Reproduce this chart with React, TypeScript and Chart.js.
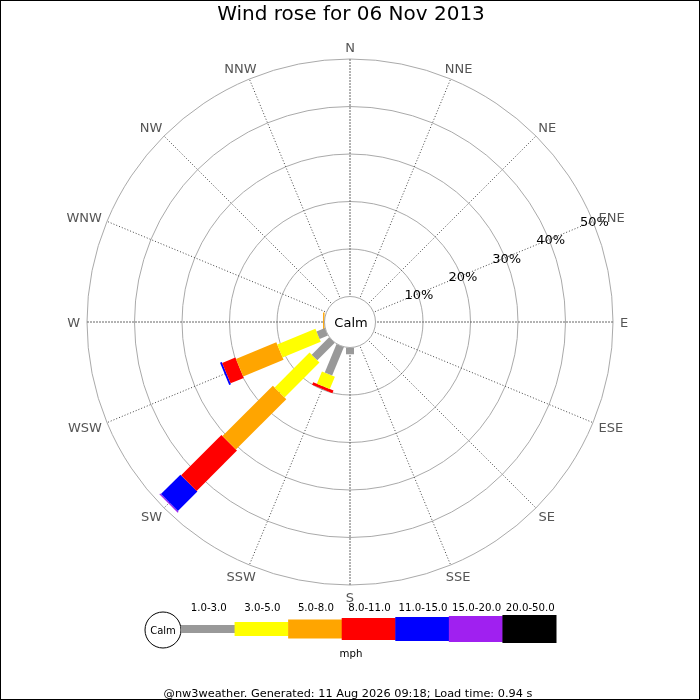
import React, { useEffect, useRef } from "react";
import { Chart, registerables } from "chart.js";

Chart.register(...registerables);

// ---- data ----
const titleText = "Wind rose for 06 Nov 2013";
const footerText = "@nw3weather. Generated: 11 Aug 2026 09:18; Load time: 0.94 s";
const directions = ["N", "NNE", "NE", "ENE", "E", "ESE", "SE", "SSE", "S", "SSW", "SW", "WSW", "W", "WNW", "NW", "NNW"];
const speedBins = ["1.0-3.0", "3.0-5.0", "5.0-8.0", "8.0-11.0", "11.0-15.0", "15.0-20.0", "20.0-50.0"];
const speedUnit = "mph";
const ringTicks = [10, 20, 30, 40, 50];
const ringLabels = ["10%", "20%", "30%", "40%", "50%"];
// percentage of time per direction (N..NNW) for each speed bin
const freq1to3 = [0, 0, 0, 0, 0, 0, 0, 0, 1.4, 6.5, 5.2, 1.9, 0, 0, 0, 0];
const freq3to5 = [0, 0, 0, 0, 0, 0, 0, 0, 0, 2.8, 10.4, 8.7, 0, 0, 0, 0];
const freq5to8 = [0, 0, 0, 0, 0, 0, 0, 0, 0, 0, 15.0, 9.2, 0.3, 0, 0, 0];
const freq8to11 = [0, 0, 0, 0, 0, 0, 0, 0, 0, 0.6, 12.0, 3.0, 0, 0, 0, 0];
const freq11to15 = [0, 0, 0, 0, 0, 0, 0, 0, 0, 0, 5.8, 0.4, 0, 0, 0, 0];
const freq15to20 = [0, 0, 0, 0, 0, 0, 0, 0, 0, 0, 0.25, 0, 0, 0, 0, 0];
const freq20to50 = [0, 0, 0, 0, 0, 0, 0, 0, 0, 0, 0, 0, 0, 0, 0, 0];
const seriesByBin = [freq1to3, freq3to5, freq5to8, freq8to11, freq11to15, freq15to20, freq20to50];

// ---- styles ----
const binColors = ["#999999", "#ffff00", "#ffa500", "#ff0000", "#0000ff", "#a020f0", "#000000"];
const binWidths = [8, 14, 19, 22, 24, 26, 28];
const FONT = "'DejaVu Sans', sans-serif";
const PX_PER_PCT = 4.75;
const CALM_PX = 25.5;
const HALF = 300; // chart area half-size in px
const U0 = CALM_PX / PX_PER_PCT;
const UR = HALF / PX_PER_PCT;

function angleOf(i: number) {
  return (i * 22.5 * Math.PI) / 180;
}

function buildDatasets() {
  const ds: any[] = [];
  directions.forEach((_, d) => {
    let cum = 0;
    const th = angleOf(d);
    seriesByBin.forEach((series, b) => {
      const v = series[d];
      if (v > 0) {
        const a = U0 + cum;
        const e = U0 + cum + v;
        ds.push({
          label: `${directions[d]} ${speedBins[b]}`,
          data: [
            { x: a * Math.sin(th), y: a * Math.cos(th) },
            { x: e * Math.sin(th), y: e * Math.cos(th) },
          ],
          showLine: true,
          borderColor: binColors[b],
          backgroundColor: binColors[b],
          borderWidth: binWidths[b],
          borderCapStyle: "butt",
          pointRadius: 0,
          pointHoverRadius: 0,
          fill: false,
        });
        cum += v;
      }
    });
  });
  return ds;
}

const rosePlugin = {
  id: "rose",
  beforeDraw(chart: any) {
    const ctx = chart.ctx;
    ctx.save();
    ctx.fillStyle = "#ffffff";
    ctx.fillRect(0, 0, chart.width, chart.height);
    ctx.restore();
  },
  beforeDatasetsDraw(chart: any) {
    const ctx = chart.ctx;
    const xs = chart.scales.x;
    const ys = chart.scales.y;
    const cx = xs.getPixelForValue(0);
    const cy = ys.getPixelForValue(0);
    const rpx = (u: number) => xs.getPixelForValue(u) - cx;
    ctx.save();
    ctx.strokeStyle = "#aaaaaa";
    ctx.lineWidth = 1;
    ringTicks.forEach((t) => {
      ctx.beginPath();
      ctx.arc(cx, cy, rpx(U0 + t), 0, Math.PI * 2);
      ctx.stroke();
    });
    const outer = U0 + ringTicks[ringTicks.length - 1];
    directions.forEach((_, i) => {
      const th = angleOf(i);
      ctx.beginPath();
      ctx.strokeStyle = i % 4 === 0 ? "#666666" : "#444444";
      ctx.setLineDash(i % 4 === 0 ? [2, 1] : [1, 2]);
      ctx.moveTo(cx, cy);
      ctx.lineTo(xs.getPixelForValue(outer * Math.sin(th)), ys.getPixelForValue(outer * Math.cos(th)));
      ctx.stroke();
    });
    ctx.setLineDash([]);
    ctx.restore();
  },
  afterDatasetsDraw(chart: any) {
    const ctx = chart.ctx;
    const xs = chart.scales.x;
    const ys = chart.scales.y;
    const cx = xs.getPixelForValue(0);
    const cy = ys.getPixelForValue(0);
    ctx.save();
    ctx.textAlign = "center";
    ctx.textBaseline = "alphabetic";
    // calm circle
    ctx.beginPath();
    ctx.arc(cx, cy, CALM_PX, 0, Math.PI * 2);
    ctx.fillStyle = "#ffffff";
    ctx.fill();
    ctx.strokeStyle = "#aaaaaa";
    ctx.lineWidth = 1;
    ctx.stroke();
    ctx.fillStyle = "#000000";
    ctx.font = `13px ${FONT}`;
    ctx.fillText("Calm", cx + 1, cy + 4.5);

    // ring labels along ENE
    const thL = angleOf(3);
    ringTicks.forEach((t, i) => {
      const u = U0 + t;
      ctx.fillText(ringLabels[i], xs.getPixelForValue(u * Math.sin(thL)) + 1.5, ys.getPixelForValue(u * Math.cos(thL)) + 4.8);
    });

    // direction labels placed just outside the outer ring
    const labU = 270 / PX_PER_PCT;
    ctx.fillStyle = "#555555";
    ctx.font = `13px ${FONT}`;
    const capH = 9.5;
    directions.forEach((d, i) => {
      const th = angleOf(i);
      const w = ctx.measureText(d).width;
      const px = xs.getPixelForValue(labU * Math.sin(th));
      const py = ys.getPixelForValue(labU * Math.cos(th));
      const mx = px + (Math.sin(th) * w) / 2;
      const my = py - (Math.cos(th) * capH) / 2;
      ctx.fillText(d, mx, my + capH / 2);
    });

    // title
    ctx.fillStyle = "#000000";
    ctx.font = `20px ${FONT}`;
    ctx.fillText(titleText, 351, 19.5);

    // legend
    const ly = 629;
    ctx.beginPath();
    ctx.arc(163, 630, 18, 0, Math.PI * 2);
    ctx.fillStyle = "#ffffff";
    ctx.fill();
    ctx.strokeStyle = "#000000";
    ctx.lineWidth = 1;
    ctx.stroke();
    ctx.fillStyle = "#000000";
    ctx.font = `10px ${FONT}`;
    ctx.fillText("Calm", 163, 634);
    const x0 = 181;
    const segW = (556 - 181) / speedBins.length;
    ctx.font = `10.2px ${FONT}`;
    speedBins.forEach((lab, b) => {
      const x = x0 + b * segW;
      ctx.fillStyle = binColors[b];
      ctx.fillRect(x, ly - binWidths[b] / 2, segW + 0.5, binWidths[b]);
      ctx.fillStyle = "#000000";
      ctx.fillText(lab, x + segW / 2 + 1, 610.7);
    });
    ctx.fillText(speedUnit, 351, 656.5);

    // footer
    ctx.font = `11.3px ${FONT}`;
    ctx.fillText(footerText, 348, 696.5);

    // border
    ctx.strokeStyle = "#000000";
    ctx.lineWidth = 1;
    ctx.strokeRect(0.5, 0.5, chart.width - 1, chart.height - 1);
    ctx.restore();
  },
};

export default function App() {
  const ref = useRef<HTMLCanvasElement | null>(null);
  useEffect(() => {
    if (!ref.current) return;
    const chart = new Chart(ref.current, {
      type: "scatter",
      data: { datasets: buildDatasets() },
      options: {
        responsive: false,
        animation: false,
        devicePixelRatio: 1,
        events: [],
        layout: { padding: { left: 50, right: 50, top: 22, bottom: 78 } },
        plugins: {
          legend: { display: false },
          title: { display: false },
          tooltip: { enabled: false },
        },
        scales: {
          x: { type: "linear", min: -UR, max: UR, display: false },
          y: { type: "linear", min: -UR, max: UR, display: false },
        },
      } as any,
      plugins: [rosePlugin],
    });
    return () => chart.destroy();
  }, []);
  return (
    <div style={{ position: "absolute", left: 0, top: 0, width: 700, height: 700 }}>
      <canvas ref={ref} width={700} height={700} style={{ width: 700, height: 700, display: "block" }} />
    </div>
  );
}
